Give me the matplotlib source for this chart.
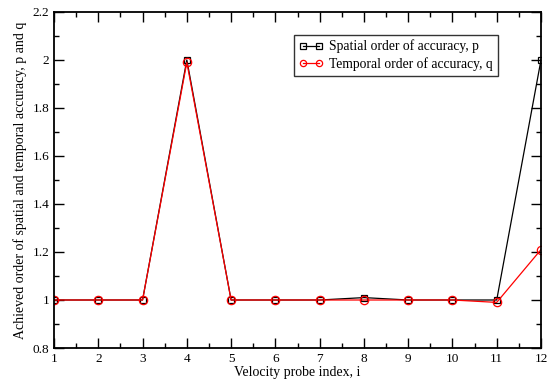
import matplotlib
matplotlib.use("Agg")
import matplotlib.pyplot as plt
from matplotlib.ticker import MultipleLocator

plt.rcParams['font.family'] = ['Liberation Serif', 'DejaVu Serif']

probe_index = [1, 2, 3, 4, 5, 6, 7, 8, 9, 10, 11, 12]
spatial_p = [1.0, 1.0, 1.0, 2.0, 1.0, 1.0, 1.0, 1.01, 1.0, 1.0, 1.0, 2.0]
temporal_q = [1.0, 1.0, 1.0, 1.99, 1.0, 1.0, 1.0, 1.0, 1.0, 1.0, 0.99, 1.21]

fig = plt.figure(figsize=(5.49, 3.81), dpi=100)
ax = fig.add_axes([0.0984, 0.0866, 0.887, 0.882])

ax.plot(probe_index, spatial_p, color='black', lw=0.9, marker='s', ms=5,
        mfc='none', mec='black', mew=0.9, label='Spatial order of accuracy, p')
ax.plot(probe_index, temporal_q, color='red', lw=0.9, marker='o', ms=6,
        mfc='none', mec='red', mew=0.9, label='Temporal order of accuracy, q')

ax.set_xlim(1, 12)
ax.set_ylim(0.8, 2.2)
ax.xaxis.set_major_locator(MultipleLocator(1))
ax.xaxis.set_minor_locator(MultipleLocator(0.5))
ax.yaxis.set_major_locator(MultipleLocator(0.2))
ax.yaxis.set_minor_locator(MultipleLocator(0.1))
ax.yaxis.set_major_formatter(plt.FuncFormatter(lambda v, _: f"{v:g}"))

ax.tick_params(which='both', direction='in', top=True, right=True, labelsize=9.5)
ax.tick_params(which='major', length=7, width=1)
ax.tick_params(which='minor', length=3.5, width=1)
for s in ax.spines.values():
    s.set_linewidth(1.3)

ax.set_xlabel('Velocity probe index, i', fontsize=10, labelpad=1)
ax.set_ylabel('Achieved order of spatial and temporal accuracy, p and q', fontsize=10, labelpad=4)

leg = ax.legend(loc='upper left', bbox_to_anchor=(0.493, 0.932), fontsize=9.8,
                numpoints=2, handlelength=1.8, markerscale=0.75, frameon=True,
                fancybox=False, borderpad=0.35, labelspacing=0.3,
                handletextpad=0.45, borderaxespad=0)
leg.get_frame().set_edgecolor('black')
leg.get_frame().set_linewidth(1.0)

fig.savefig('out.png', dpi=100)
